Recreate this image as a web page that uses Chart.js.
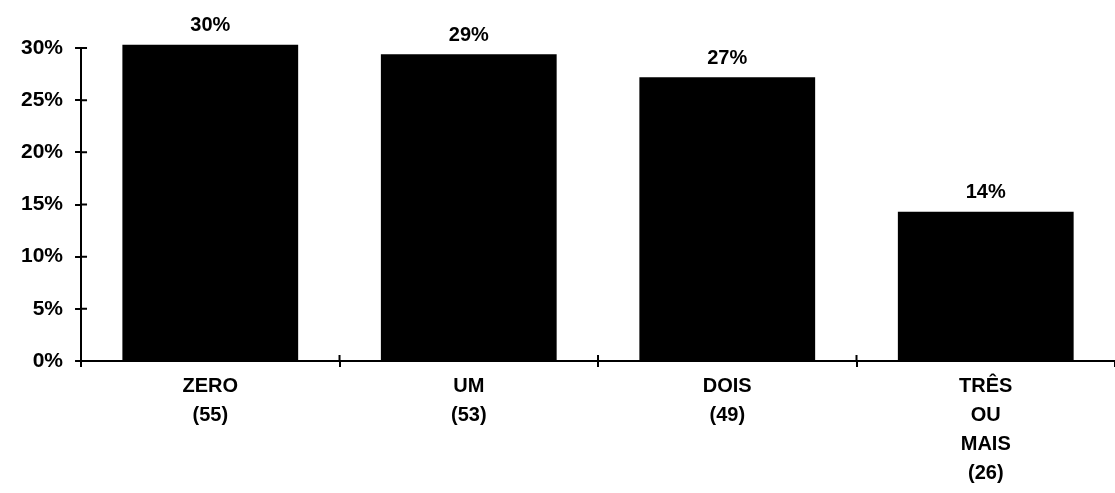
<!DOCTYPE html>
<html>
<head>
<meta charset="utf-8">
<script src="https://cdn.jsdelivr.net/npm/chart.js@4"></script>
<style>
  html, body { margin: 0; padding: 0; background: #fff; }
  #wrap { width: 1115px; height: 493px; position: relative; }
</style>
</head>
<body>
<div id="wrap"><canvas id="chart1"></canvas></div>
<script>
const categories = [['ZERO', '(55)'], ['UM', '(53)'], ['DOIS', '(49)'], ['TRÊS', 'OU', 'MAIS', '(26)']];
const percentValues = [30.3, 29.4, 27.2, 14.3];
const valueLabels = ['30%', '29%', '27%', '14%'];

const FONT = "'Liberation Sans', Arial, sans-serif";

// percent labels above each bar
const barLabels = {
    id: 'barLabels',
    afterDatasetsDraw(chart) {
        const ctx = chart.ctx;
        const meta = chart.getDatasetMeta(0);
        ctx.save();
        ctx.fillStyle = '#000';
        ctx.font = 'bold 20px ' + FONT;
        ctx.textAlign = 'center';
        ctx.textBaseline = 'bottom';
        meta.data.forEach((bar, i) => {
            ctx.fillText(valueLabels[i], bar.x, bar.y - 9);
        });
        ctx.restore();
    }
};

// make the tick marks cross the axis lines
const crossTicks = {
    id: 'crossTicks',
    afterDraw(chart) {
        const ctx = chart.ctx;
        const { x, y } = chart.scales;
        const area = chart.chartArea;
        ctx.save();
        ctx.strokeStyle = '#000';
        ctx.lineWidth = 2;
        ctx.beginPath();
        y.ticks.forEach((t, i) => {
            const py = y.getPixelForTick(i);
            ctx.moveTo(area.left, py);
            ctx.lineTo(area.left + 6, py);
        });
        for (let i = 0; i < x.ticks.length - 1; i++) {
            const px = (x.getPixelForTick(i) + x.getPixelForTick(i + 1)) / 2;
            ctx.moveTo(px, area.bottom);
            ctx.lineTo(px, area.bottom - 6);
        }
        ctx.stroke();
        ctx.restore();
    }
};

document.addEventListener('DOMContentLoaded', () => {
    const ctx1 = document.getElementById('chart1').getContext('2d');
    new Chart(ctx1, {
        type: 'bar',
        data: {
            labels: categories,
            datasets: [{
                data: percentValues,
                backgroundColor: '#000',
                borderWidth: 0,
                categoryPercentage: 1,
                barPercentage: 0.68,
                clip: false
            }]
        },
        options: {
            responsive: true,
            maintainAspectRatio: false,
            animation: false,
            layout: { padding: { top: 48, right: 0, left: 9, bottom: 0 } },
            plugins: {
                legend: { display: false },
                tooltip: { enabled: false }
            },
            scales: {
                x: {
                    offset: true,
                    border: { color: '#000', width: 2 },
                    grid: { display: true, offset: true, drawOnChartArea: false, color: '#000', lineWidth: 2, tickLength: 6 },
                    ticks: {
                        color: '#000',
                        font: { family: FONT, size: 20, weight: 'bold', lineHeight: 1.45 },
                        maxRotation: 0,
                        padding: 5
                    }
                },
                y: {
                    min: 0,
                    max: 30,
                    border: { color: '#000', width: 2 },
                    grid: { display: true, drawOnChartArea: false, color: '#000', lineWidth: 2, tickLength: 6 },
                    ticks: {
                        stepSize: 5,
                        color: '#000',
                        padding: 12,
                        font: { family: FONT, size: 21, weight: 'bold' },
                        callback: v => v + '%'
                    }
                }
            }
        },
        plugins: [barLabels, crossTicks]
    });
});
</script>
</body>
</html>
